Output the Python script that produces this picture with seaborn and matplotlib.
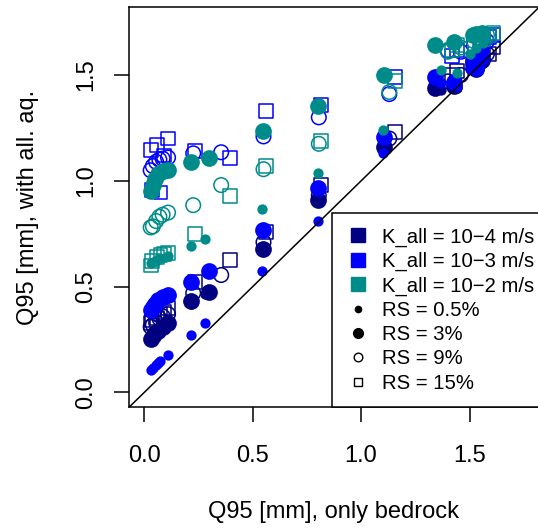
import matplotlib
matplotlib.use("Agg")
import matplotlib.pyplot as plt
import matplotlib.lines as mlines
import seaborn as sns
import pandas as pd

# ------------------------------------------------------------------
# Data: one value per catchment (6 low ones, 5 middle, 5 top right)
# ------------------------------------------------------------------
K_LABELS = ["K_all = 10\u22124 m/s", "K_all = 10\u22123 m/s", "K_all = 10\u22122 m/s"]
K_COLORS = ["#000080", "#0000FF", "#008B8B"]
RS_LABELS = ["RS = 0.5%", "RS = 3%", "RS = 9%", "RS = 15%"]

# x = Q95 only bedrock, depends on RS
X_RS05 = [0.03, 0.04, 0.055, 0.065, 0.075, 0.11, 0.216, 0.28, 0.545, 0.80, 1.10, 1.37, 1.44, 1.50, 1.53, 1.56]
X_RS3 = [0.03, 0.04, 0.05, 0.065, 0.085, 0.11, 0.218, 0.30, 0.547, 0.80, 1.105, 1.34, 1.43, 1.515, 1.53, 1.555]
X_RS9 = [0.03, 0.04, 0.055, 0.07, 0.085, 0.11, 0.226, 0.355, 0.55, 0.805, 1.13, 1.40, 1.46, 1.52, 1.55, 1.58]
X_RS15 = [0.03, 0.035, 0.06, 0.075, 0.09, 0.11, 0.235, 0.395, 0.56, 0.815, 1.155, 1.42, 1.44, 1.56, 1.59, 1.61]

# y = Q95 with all. aq., per K_all and RS
Y_NAVY_RS05 = [0.245, 0.255, 0.27, 0.28, 0.30, 0.32, 0.42, 0.465, 0.67, 0.90, 1.15, 1.43, 1.44, 1.54, 1.52, 1.56]
Y_NAVY_RS3 = [0.255, 0.265, 0.28, 0.29, 0.31, 0.33, 0.43, 0.475, 0.68, 0.91, 1.16, 1.44, 1.45, 1.555, 1.53, 1.57]
Y_NAVY_RS9 = [0.31, 0.32, 0.33, 0.35, 0.36, 0.37, 0.47, 0.555, 0.71, 0.93, 1.20, 1.47, 1.50, 1.58, 1.56, 1.60]
Y_NAVY_RS15 = [0.33, 0.34, 0.35, 0.37, 0.38, 0.40, 0.52, 0.625, 0.76, 0.98, 1.23, 1.50, 1.52, 1.61, 1.60, 1.63]

Y_BLUE_RS05 = [0.105, 0.115, 0.13, 0.14, 0.15, 0.175, 0.27, 0.33, 0.573, 0.81, 1.13, 1.46, 1.45, 1.53, 1.55, 1.57]
Y_BLUE_RS3 = [0.39, 0.405, 0.42, 0.435, 0.45, 0.46, 0.52, 0.575, 0.77, 0.965, 1.205, 1.49, 1.465, 1.57, 1.535, 1.60]
Y_BLUE_RS9 = [1.05, 1.07, 1.09, 1.10, 1.105, 1.11, 1.13, 1.135, 1.21, 1.30, 1.41, 1.615, 1.61, 1.64, 1.65, 1.66]
Y_BLUE_RS15 = [1.145, 0.955, 1.17, 0.945, 1.12, 1.20, 1.14, 1.11, 1.33, 1.36, 1.49, 1.59, 1.62, 1.66, 1.68, 1.69]

Y_TEAL_RS05 = [0.61, 0.615, 0.62, 0.63, 0.635, 0.645, 0.69, 0.724, 0.866, 1.035, 1.24, 1.525, 1.51, 1.60, 1.63, 1.65]
Y_TEAL_RS3 = [0.95, 0.98, 1.01, 1.03, 1.045, 1.05, 1.087, 1.11, 1.235, 1.355, 1.50, 1.64, 1.655, 1.69, 1.695, 1.70]
Y_TEAL_RS9 = [0.78, 0.785, 0.81, 0.83, 0.84, 0.85, 0.885, 0.98, 1.055, 1.175, 1.42, 1.61, 1.63, 1.66, 1.67, 1.69]
Y_TEAL_RS15 = [0.60, 0.62, 0.64, 0.65, 0.655, 0.66, 0.75, 0.93, 1.07, 1.19, 1.47, 1.62, 1.64, 1.67, 1.69, 1.70]

X_BY_RS = [X_RS05, X_RS3, X_RS9, X_RS15]
Y_BY_K = [
    [Y_NAVY_RS05, Y_NAVY_RS3, Y_NAVY_RS9, Y_NAVY_RS15],
    [Y_BLUE_RS05, Y_BLUE_RS3, Y_BLUE_RS9, Y_BLUE_RS15],
    [Y_TEAL_RS05, Y_TEAL_RS3, Y_TEAL_RS9, Y_TEAL_RS15],
]

rows = []
for k, ys in zip(K_LABELS, Y_BY_K):
    for rs, xs, yv in zip(RS_LABELS, X_BY_RS, ys):
        for xi, yi in zip(xs, yv):
            rows.append({"K": k, "RS": rs, "x": xi, "y": yi})
df = pd.DataFrame(rows)

# marker per RS: (marker, size, filled)
RS_STYLE = {
    "RS = 0.5%": ("o", 55, True),
    "RS = 3%": ("o", 145, True),
    "RS = 9%": ("o", 110, False),
    "RS = 15%": ("s", 100, False),
}

# ------------------------------------------------------------------
# Plot
# ------------------------------------------------------------------
sns.set_style("ticks")
plt.rcParams["font.family"] = ["Liberation Sans", "DejaVu Sans"]
plt.rcParams["axes.linewidth"] = 1.1

fig = plt.figure(figsize=(5.38, 5.29), dpi=100)
ax = fig.add_axes([129 / 538, 1 - 407.3 / 529, 410 / 538, 400 / 529])

for k, col in zip(K_LABELS, K_COLORS):
    for rs in RS_LABELS:
        marker, size, filled = RS_STYLE[rs]
        sub = df[(df["K"] == k) & (df["RS"] == rs)]
        if filled:
            sns.scatterplot(data=sub, x="x", y="y", marker=marker, s=size,
                            color=col, edgecolor=col, linewidth=0, ax=ax, legend=False)
        else:
            sns.scatterplot(data=sub, x="x", y="y", marker=marker, s=size,
                            color=col, facecolor="none", edgecolor=col,
                            linewidth=1.1, ax=ax, legend=False)

ax.axline((0, 0), (1, 1), color="black", lw=1.1, zorder=3)

ax.set_xlim(-0.07, 1.82)
ax.set_ylim(-0.07, 1.82)
ax.set_xticks([0, 0.5, 1.0, 1.5], ["0.0", "0.5", "1.0", "1.5"])
ax.set_yticks([0, 0.5, 1.0, 1.5], ["0.0", "0.5", "1.0", "1.5"])
ax.tick_params(axis="both", length=10.8, width=1.1, labelsize=17,
               color="black", labelcolor="black")
ax.tick_params(axis="x", pad=16)
ax.tick_params(axis="y", pad=12, labelrotation=90)
for lab in ax.get_yticklabels():
    lab.set_va("center")

ax.set_xlabel("Q95 [mm], only bedrock", fontsize=17, va="center", color="black")
ax.set_ylabel("Q95 [mm], with all. aq.", fontsize=17, va="center", color="black")
ax.xaxis.set_label_coords(0.5, -0.262)
ax.yaxis.set_label_coords(-0.246, 0.5)

for sp in ax.spines.values():
    sp.set_color("black")

# Legend
handles = [mlines.Line2D([], [], color=c, marker="s", linestyle="None",
                         markersize=10, label=l)
           for l, c in zip(K_LABELS, K_COLORS)]
handles += [
    mlines.Line2D([], [], color="black", marker="o", linestyle="None",
                  markersize=4.5, label=RS_LABELS[0]),
    mlines.Line2D([], [], color="black", marker="o", linestyle="None",
                  markersize=7, label=RS_LABELS[1]),
    mlines.Line2D([], [], color="black", marker="o", linestyle="None",
                  markersize=6.2, markerfacecolor="none", markeredgewidth=1, label=RS_LABELS[2]),
    mlines.Line2D([], [], color="black", marker="s", linestyle="None",
                  markersize=5.5, markerfacecolor="none", markeredgewidth=1, label=RS_LABELS[3]),
]
leg = ax.legend(handles=handles, loc="lower left", bbox_to_anchor=(203 / 410, 0.0),
                borderaxespad=0, fontsize=14.6, frameon=True, fancybox=False,
                edgecolor="black", framealpha=1, borderpad=0.72, handlelength=1.15,
                handletextpad=0.6, labelspacing=0.26)
leg.get_frame().set_linewidth(1.1)
for t in leg.get_texts():
    t.set_color("black")

fig.savefig("out.png", dpi=100)
